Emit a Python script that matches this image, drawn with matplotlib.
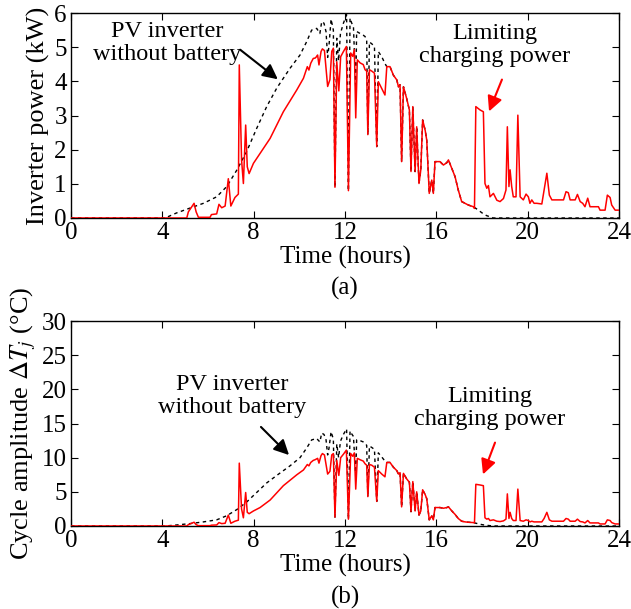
import matplotlib

matplotlib.use("Agg")
import matplotlib.pyplot as plt

plt.rcParams["font.family"] = ["Liberation Serif", "DejaVu Serif"]
plt.rcParams["mathtext.fontset"] = "stix"
plt.rcParams["font.size"] = 18

# inverter with battery (red): hour, power (kW), cycle amplitude (degC)
hours_bat = [0.0, 5.07, 5.14, 5.29, 5.39, 5.48, 5.58, 6.09, 6.15, 6.38, 6.48, 6.60, 6.75, 6.89,
             7.00, 7.18, 7.33, 7.37, 7.47, 7.55, 7.65, 7.72, 7.80, 7.99, 8.28, 8.72, 9.30, 9.89,
             10.18, 10.35, 10.42, 10.50, 10.61, 10.69, 10.75, 10.80, 10.86, 10.95, 11.01, 11.10,
             11.24, 11.34, 11.42, 11.49, 11.56, 11.64, 11.73, 11.81, 11.93, 12.06, 12.15, 12.25,
             12.34, 12.41, 12.47, 12.54, 12.66, 12.80, 12.88, 12.95, 13.00, 13.07, 13.17, 13.29,
             13.39, 13.46, 13.61, 13.75, 13.83, 13.97, 14.12, 14.27, 14.34, 14.41, 14.48, 14.56,
             14.70, 14.82, 14.89, 14.97, 15.07, 15.14, 15.24, 15.32, 15.40, 15.51, 15.58, 15.69,
             15.80, 15.87, 15.94, 16.16, 16.31, 16.46, 16.53, 16.68, 16.82, 16.96, 17.11, 17.26,
             17.40, 17.62, 17.67, 17.73, 17.92, 18.06, 18.13, 18.21, 18.28, 18.35, 18.50, 18.65,
             18.79, 18.94, 19.05, 19.11, 19.18, 19.23, 19.30, 19.37, 19.49, 19.57, 19.67, 19.81,
             19.93, 20.03, 20.10, 20.18, 20.28, 20.40, 20.62, 20.72, 20.84, 20.95, 21.06, 21.57,
             21.68, 21.78, 21.86, 22.08, 22.18, 22.30, 22.41, 22.51, 22.63, 22.73, 23.10, 23.17,
             23.39, 23.49, 23.61, 23.68, 23.83, 24.00]
p_bat = [0.0, 0.0, 0.18, 0.33, 0.43, 0.18, 0.02, 0.02, 0.10, 0.12, 0.40, 0.30, 0.35, 1.15,
         0.35, 0.60, 0.70, 4.48, 1.70, 1.01, 2.72, 1.50, 1.30, 1.60, 1.89, 2.33, 3.11, 3.75,
         4.09, 4.43, 4.33, 4.53, 4.67, 4.68, 4.72, 4.77, 4.48, 4.87, 4.95, 4.90,
         3.85, 4.05, 4.88, 4.97, 0.90, 4.57, 3.72, 4.72, 4.87, 5.02, 0.80, 4.83,
         4.73, 4.93, 2.93, 4.63, 4.54, 4.49, 4.34, 4.30, 2.44, 4.34, 4.30, 4.24,
         2.09, 3.99, 3.79, 3.60, 4.43, 4.43, 4.18, 4.04, 3.84, 3.90, 1.65, 3.84,
         3.50, 3.16, 1.36, 3.26, 1.36, 2.67, 1.01, 1.41, 2.87, 2.57, 2.28, 0.72,
         1.11, 0.72, 1.65, 1.65, 1.55, 1.62, 1.70, 1.45, 1.21, 0.82, 0.48, 0.43,
         0.38, 0.33, 0.28, 3.26, 3.16, 3.11, 1.01, 0.87, 0.95, 0.62, 0.72, 0.52,
         0.48, 0.57, 0.82, 2.67, 0.92, 1.41, 0.92, 0.62, 0.62, 3.01, 0.62, 0.53,
         0.70, 0.62, 0.43, 0.53, 0.43, 0.43, 0.41, 0.82, 1.31, 0.67, 0.53, 0.53,
         0.77, 0.74, 0.53, 0.53, 0.69, 0.48, 0.43, 0.33, 0.58, 0.33, 0.33, 0.23,
         0.23, 0.67, 0.60, 0.38, 0.23, 0.23]
dtj_bat = [0.0, 0.0, 0.2, 0.4, 0.55, 0.2, 0.05, 0.05, 0.12, 0.15, 0.5, 0.35, 0.4, 1.6,
           0.4, 0.7, 0.85, 9.2, 2.5, 1.2, 4.9, 2.0, 1.8, 2.2, 2.7, 3.8, 5.9, 7.5,
           8.2, 9.0, 8.8, 9.3, 9.6, 9.7, 9.8, 9.9, 9.2, 10.3, 10.6, 10.4,
           7.6, 8.0, 10.4, 10.6, 1.3, 9.6, 7.4, 10.0, 10.5, 11.1, 1.0, 10.6,
           10.2, 10.7, 5.4, 9.9, 9.7, 9.5, 9.1, 8.9, 4.3, 9.0, 8.9, 8.6,
           3.6, 8.1, 7.6, 7.2, 9.3, 9.3, 8.6, 8.1, 7.6, 7.8, 2.8, 7.7,
           6.9, 6.4, 2.1, 6.5, 2.2, 5.0, 1.6, 2.2, 5.3, 4.6, 4.0, 0.9,
           1.5, 0.9, 2.7, 2.7, 2.6, 2.7, 2.8, 2.2, 1.7, 1.1, 0.7, 0.6,
           0.55, 0.5, 0.45, 6.1, 6.0, 5.9, 1.2, 1.0, 1.1, 0.8, 0.9, 0.7,
           0.65, 0.75, 1.0, 4.7, 1.1, 2.0, 1.1, 0.8, 0.8, 5.4, 0.8, 0.7,
           0.9, 0.8, 0.6, 0.7, 0.6, 0.6, 0.6, 1.1, 2.0, 0.9, 0.7, 0.7,
           1.1, 1.0, 0.7, 0.7, 1.0, 0.65, 0.6, 0.45, 0.8, 0.45, 0.45, 0.3,
           0.3, 0.9, 0.8, 0.5, 0.3, 0.3]

# PV inverter without battery (black dashed)
hours_pv = [0.0, 4.12, 4.63, 5.21, 5.80, 6.38, 6.82, 7.26, 7.69, 8.13, 8.57, 9.01, 9.59, 10.03,
            10.32, 10.54, 10.76, 10.90, 10.98, 11.08, 11.17, 11.24, 11.30, 11.39, 11.49, 11.56,
            11.64, 11.72, 11.80, 11.93, 12.07, 12.15, 12.22, 12.29, 12.37, 12.47, 12.51, 12.66,
            12.80, 12.88, 12.95, 13.00, 13.07, 13.17, 13.29, 13.39, 13.46, 13.61, 13.75, 13.83,
            13.97, 14.12, 14.27, 14.34, 14.41, 14.48, 14.56, 14.70, 14.82, 14.89, 14.97, 15.07,
            15.14, 15.24, 15.32, 15.40, 15.51, 15.58, 15.69, 15.80, 15.87, 15.94, 16.16, 16.31,
            16.46, 16.53, 16.68, 16.82, 16.96, 17.11, 17.26, 17.40, 17.62, 17.80, 18.00, 18.20,
            18.50, 24.00]
p_pv = [0.0, 0.0, 0.15, 0.29, 0.43, 0.62, 0.92, 1.40, 1.94, 2.62, 3.26, 3.80, 4.38, 4.77,
        5.16, 5.50, 5.55, 5.40, 5.75, 5.70, 5.45, 4.70, 5.05, 5.82, 5.50, 0.90,
        5.26, 4.60, 5.40, 5.70, 5.95, 0.80, 5.85, 5.71, 5.60, 3.80, 5.46, 5.40,
        5.35, 5.31, 5.20, 2.44, 5.15, 5.10, 5.02, 2.09, 4.87, 4.72, 4.52, 4.43,
        4.43, 4.18, 4.04, 3.84, 3.90, 1.65, 3.84, 3.50, 3.16, 1.36, 3.26, 1.36,
        2.67, 1.01, 1.41, 2.87, 2.57, 2.28, 0.72, 1.11, 0.72, 1.65, 1.65, 1.55,
        1.62, 1.70, 1.45, 1.21, 0.82, 0.48, 0.43, 0.38, 0.33, 0.25, 0.15, 0.07,
        0.0, 0.0]
dtj_pv = [0.0, 0.0, 0.15, 0.35, 0.6, 0.9, 1.5, 2.4, 3.5, 4.9, 6.3, 7.4, 8.8, 10.0,
          11.4, 12.6, 12.8, 12.3, 13.6, 13.4, 12.6, 10.4, 11.4, 13.8, 12.7, 1.3,
          12.0, 10.0, 12.4, 13.4, 14.2, 1.0, 13.9, 13.5, 13.1, 7.3, 12.6, 12.5,
          12.3, 12.1, 11.8, 4.3, 11.7, 11.5, 11.2, 3.6, 10.7, 10.1, 9.5, 9.3,
          9.3, 8.6, 8.1, 7.6, 7.8, 2.8, 7.7, 6.9, 6.4, 2.1, 6.5, 2.2,
          5.0, 1.6, 2.2, 5.3, 4.6, 4.0, 0.9, 1.5, 0.9, 2.7, 2.7, 2.6,
          2.7, 2.8, 2.2, 1.7, 1.1, 0.7, 0.6, 0.55, 0.5, 0.35, 0.2, 0.1,
          0.0, 0.0]

W, H = 631, 609
fig = plt.figure(figsize=(W / 100, H / 100), dpi=100)


def fx(px):
    return px / W


def fy(py):
    return 1 - py / H


def setup(ax, ymax, yticks):
    ax.set_xlim(0, 24)
    ax.set_ylim(0, ymax)
    ax.set_xticks(range(0, 25, 4))
    ax.set_yticks(yticks)
    ax.tick_params(direction="in", top=True, right=True, length=5, width=0.8, pad=3,
                   labelsize=18)
    for s in ax.spines.values():
        s.set_linewidth(1.0)


ax1 = fig.add_axes([fx(71), fy(218), fx(619) - fx(71), fy(13) - fy(218)])
ax1.plot(hours_pv, p_pv, color="black", ls=(0, (2.5, 2.5)), lw=1.0, zorder=2)
ax1.plot(hours_bat, p_bat, color="red", lw=1.1, zorder=3)
setup(ax1, 6, range(0, 7))
ax1.set_ylabel("Inverter power (kW)", fontsize=19, labelpad=3)
ax1.set_xlabel("Time (hours)", fontsize=18, labelpad=1)

ax2 = fig.add_axes([fx(71), fy(526), fx(619) - fx(71), fy(321) - fy(526)])
ax2.plot(hours_pv, dtj_pv, color="black", ls=(0, (2.5, 2.5)), lw=1.0, zorder=2)
ax2.plot(hours_bat, dtj_bat, color="red", lw=1.1, zorder=3)
setup(ax2, 30, range(0, 31, 5))
ax2.set_ylabel(r"Cycle amplitude $\Delta T_j$ (°C)", fontsize=19, labelpad=3)
ax2.set_xlabel("Time (hours)", fontsize=18, labelpad=1)

fig.text(fx(345), fy(288), "(a)", ha="center", va="center", fontsize=18)
fig.text(fx(345), fy(597), "(b)", ha="center", va="center", fontsize=18)


# annotations
def note(text, tx, ty, x0, y0, x1, y1, color):
    fig.text(fx(tx), fy(ty), text, ha="center", va="center", fontsize=17.5,
             linespacing=1.1)
    fig.patches.append(matplotlib.patches.FancyArrowPatch(
        (fx(x0), fy(y0)), (fx(x1), fy(y1)), transform=fig.transFigure,
        arrowstyle="-|>,head_length=9,head_width=4.5", color=color, lw=1.5,
        mutation_scale=1))


note("PV inverter\nwithout battery", 167, 43, 238, 48, 280, 81, "black")
note("Limiting\ncharging power", 495, 45, 503, 77, 488, 114, "red")
note("PV inverter\nwithout battery", 232, 396, 259, 425, 291, 457, "black")
note("Limiting\ncharging power", 490, 408, 496, 440, 482, 477, "red")

fig.savefig("out.png", dpi=100)
